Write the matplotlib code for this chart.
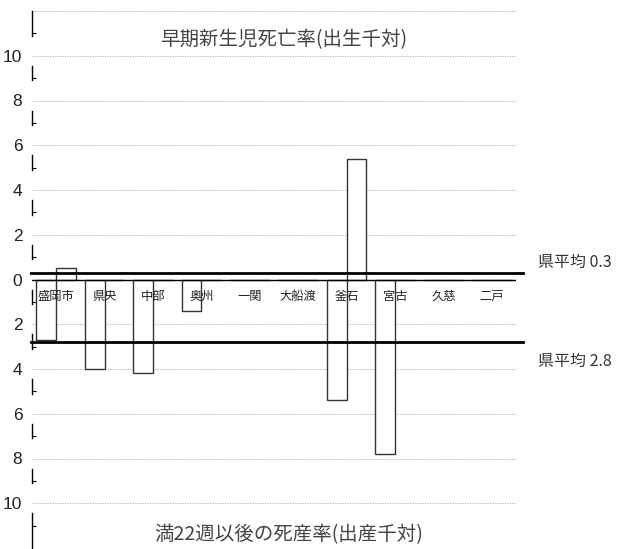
import matplotlib
matplotlib.use("Agg")
from matplotlib import pyplot as plt
import numpy as np

plt.rcParams['font.family'] = ['Noto Sans CJK JP', 'DejaVu Sans']

# data
areas = ["盛岡市", "県央", "中部", "奥州", "一関", "大船渡", "釜石", "宮古", "久慈", "二戸"]
neonatal = [0.5, 0, 0, 0, 0, 0, 5.4, 0, 0, 0]        # 早期新生児死亡率(出生千対)
stillbirth = [2.7, 4.0, 4.2, 1.4, 0, 0, 5.4, 7.8, 0, 0]  # 満22週以後の死産率(出産千対)
avg_neonatal = 0.3
avg_stillbirth = 2.8
ytick_vals = [-10, -8, -6, -4, -2, 0, 2, 4, 6, 8, 10]

fig = plt.figure(figsize=(6.2, 5.49), dpi=100)
ax = fig.add_axes([32 / 620, 1 / 549, 484 / 620, 537 / 549])

x = np.arange(len(areas))
ax.set_xlim(-0.5, len(areas) - 0.5)
ax.set_ylim(-12, 12)

# grid (dotted) at even values
for v in range(-12, 13, 2):
    if v == 0:
        continue
    ax.axhline(v, color="#aaaaaa", lw=0.6, ls=(0, (1.5, 1.5)), zorder=0)

# bars: upper = neonatal, lower = stillbirth (drawn downward)
bw = 0.41
ax.bar(x, neonatal, width=bw, align='edge', facecolor='white',
       edgecolor='#333333', linewidth=1.0, zorder=2)
ax.bar(x, [-v for v in stillbirth], width=-bw, align='edge', facecolor='white',
       edgecolor='#333333', linewidth=1.0, zorder=2)

# zero line and averages
ax.axhline(0, color='black', lw=1.0, zorder=3)
ax.plot([-0.53, 9.64], [avg_neonatal, avg_neonatal], color='black', lw=2.0,
        clip_on=False, zorder=4)
ax.plot([-0.53, 9.64], [-avg_stillbirth, -avg_stillbirth], color='black', lw=2.0,
        clip_on=False, zorder=4)
ax.text(9.95, 0.75, "県平均 0.3", fontsize=11.5, color='#333333', va='center',
        ha='left', clip_on=False)
ax.text(9.95, -3.65, "県平均 2.8", fontsize=11.5, color='#333333', va='center',
        ha='left', clip_on=False)

# category labels just under zero line
for i, name in enumerate(areas):
    ax.text(i, -0.74, name, fontsize=8.8, color='#222222', ha='center', va='center', zorder=5)

# titles inside the plot
ax.text(4.7, 10.7, "早期新生児死亡率(出生千対)", fontsize=14, color='#444444',
        ha='center', va='center')
ax.text(4.8, -11.4, "満22週以後の死産率(出産千対)", fontsize=14, color='#444444',
        ha='center', va='center')

# y axis: labels show absolute values
ax.set_xticks([])
ax.set_yticks(ytick_vals)
ax.set_yticklabels([str(abs(v)) for v in ytick_vals],
                   fontfamily=['Liberation Sans', 'DejaVu Sans'],
                   fontsize=12.5, color='#222222')
ax.tick_params(axis='y', which='major', length=0, pad=7)
ax.set_yticks(range(-11, 12, 2), minor=True)
ax.tick_params(axis='y', which='minor', direction='in', length=3, width=0.8, color='black')
for s in ax.spines.values():
    s.set_visible(False)

# broken y axis line (pieces around the odd ticks)
tr = ax.get_yaxis_transform()
for t in range(-11, 12, 2):
    lo, hi = t - 0.1, t + 0.55
    if t == 11:
        hi = 12
    if t == -11:
        lo = -12
    ax.plot([0, 0], [lo, hi], color='black', lw=1.0, transform=tr, clip_on=False, zorder=4)

fig.savefig("out.png", dpi=100)
